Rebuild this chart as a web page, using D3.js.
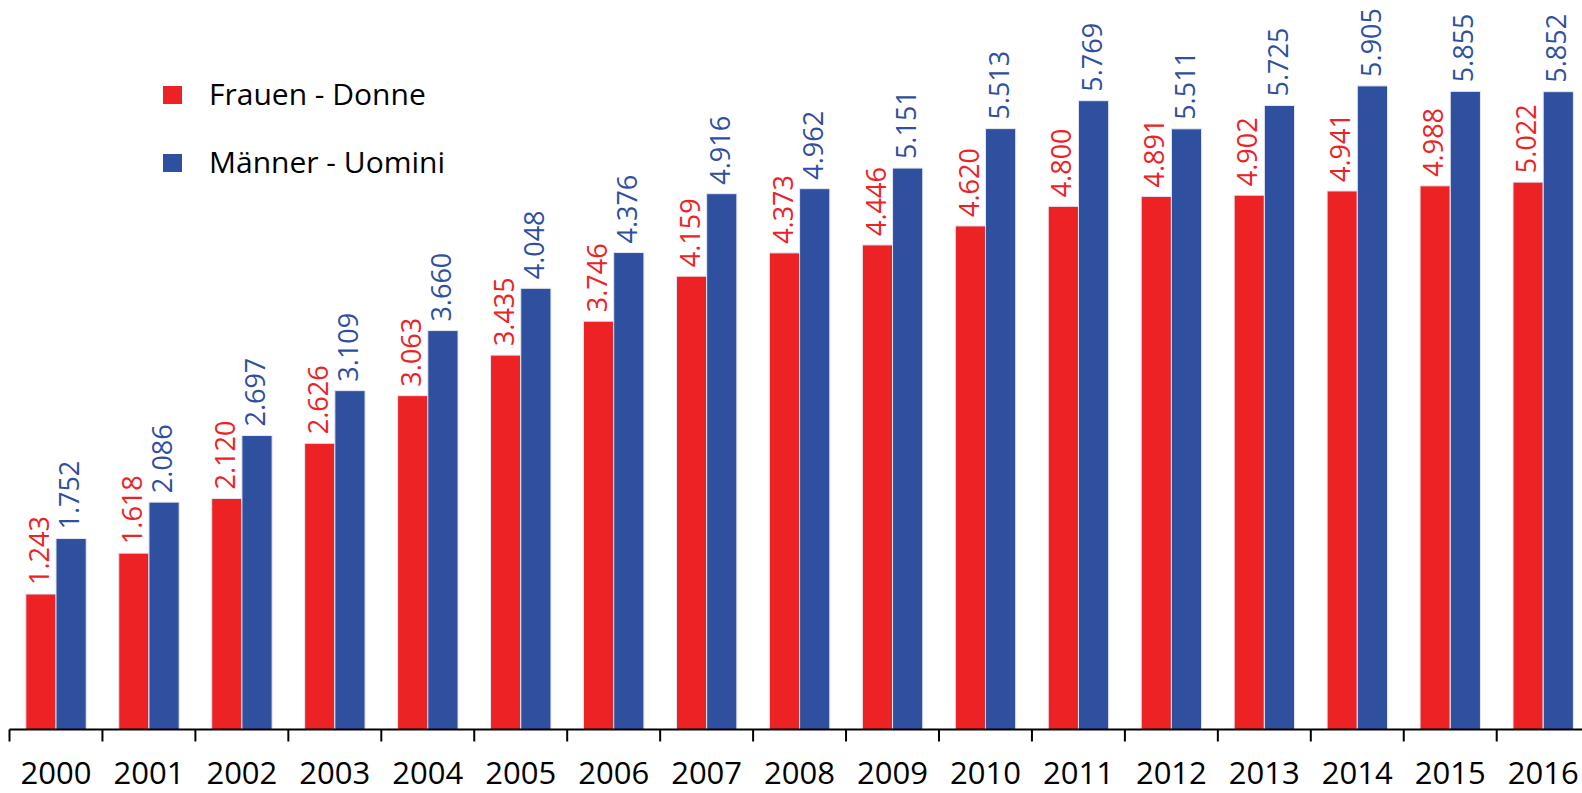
<!DOCTYPE html>
<html>
<head>
<meta charset="utf-8">
<script src="https://cdn.jsdelivr.net/npm/d3@7"></script>
<style>
  html, body { margin: 0; padding: 0; background: #fff; }
  svg { display: block; font-family: "Open Sans", "Noto Sans", sans-serif; }
</style>
</head>
<body>
<svg id="chart" width="1582" height="793"></svg>
<script>
const years = ["2000","2001","2002","2003","2004","2005","2006","2007","2008","2009","2010","2011","2012","2013","2014","2015","2016"];
const seriesNames = ["Frauen - Donne", "Männer - Uomini"];
const frauen = [1243,1618,2120,2626,3063,3435,3746,4159,4373,4446,4620,4800,4891,4902,4941,4988,5022];
const maenner = [1752,2086,2697,3109,3660,4048,4376,4916,4962,5151,5513,5769,5511,5725,5905,5855,5852];
const colors = ["#ED2224", "#2F4F9F"];

const svg = d3.select("#chart");
const baseY = 729.5;

const x0 = d3.scaleBand().domain(years).range([9.5, 9.5 + 17 * 92.95]).padding(0);
const x1 = d3.scaleBand().domain(seriesNames).range([16.3, 76.7]).padding(0);
const y = d3.scaleLinear().domain([0, 6693]).range([baseY, 0]);

const locale = d3.formatLocale({decimal: ",", thousands: ".", grouping: [3], currency: ["", "€"]});
const fmt = locale.format(",");

const data = years.map((yr, i) => ({year: yr, values: [
  {key: seriesNames[0], value: frauen[i], color: colors[0]},
  {key: seriesNames[1], value: maenner[i], color: colors[1]}
]}));

const groups = svg.selectAll("g.grp").data(data).join("g")
  .attr("class", "grp")
  .attr("transform", d => `translate(${x0(d.year)},0)`);

groups.selectAll("rect").data(d => d.values).join("rect")
  .attr("x", d => x1(d.key))
  .attr("y", d => y(d.value))
  .attr("width", x1.bandwidth())
  .attr("height", d => baseY - y(d.value))
  .attr("fill", d => d.color)
  .attr("stroke", "#e6e8f4")
  .attr("stroke-width", 1);

groups.selectAll("text.val").data(d => d.values).join("text")
  .attr("class", "val")
  .attr("transform", d => `translate(${x1(d.key) + x1.bandwidth() / 2},${y(d.value) - 9}) rotate(-90)`)
  .attr("dy", "0.30em")
  .attr("text-anchor", "start")
  .attr("font-size", 27)
  .attr("fill", d => d.color)
  .text(d => fmt(d.value));

// axis: labels at band centers
const axis = svg.append("g").attr("transform", `translate(0,${baseY})`)
  .call(d3.axisBottom(x0).tickSize(0).tickPadding(32));
axis.select(".domain").remove();
axis.selectAll("text").attr("font-size", 31).attr("fill", "#000")
  .attr("font-family", "'Open Sans', 'Noto Sans', sans-serif");

// axis line and boundary ticks
svg.append("line").attr("x1", x0.range()[0]).attr("x2", 1582)
  .attr("y1", baseY).attr("y2", baseY).attr("stroke", "#000").attr("stroke-width", 2);
const bounds = years.map(yr => x0(yr)).concat([x0.range()[1]]);
svg.selectAll("line.tick-b").data(bounds).join("line")
  .attr("class", "tick-b")
  .attr("x1", d => d).attr("x2", d => d)
  .attr("y1", baseY).attr("y2", baseY + 12)
  .attr("stroke", "#000").attr("stroke-width", 2);

// legend
const legend = svg.append("g");
const legY = [86, 154];
seriesNames.forEach((name, i) => {
  legend.append("rect").attr("x", 163).attr("y", legY[i]).attr("width", 19).attr("height", 18)
    .attr("fill", colors[i]);
  legend.append("text").attr("x", 209).attr("y", legY[i] + 19)
    .attr("font-size", 30).attr("fill", "#000").text(name);
});
</script>
</body>
</html>
